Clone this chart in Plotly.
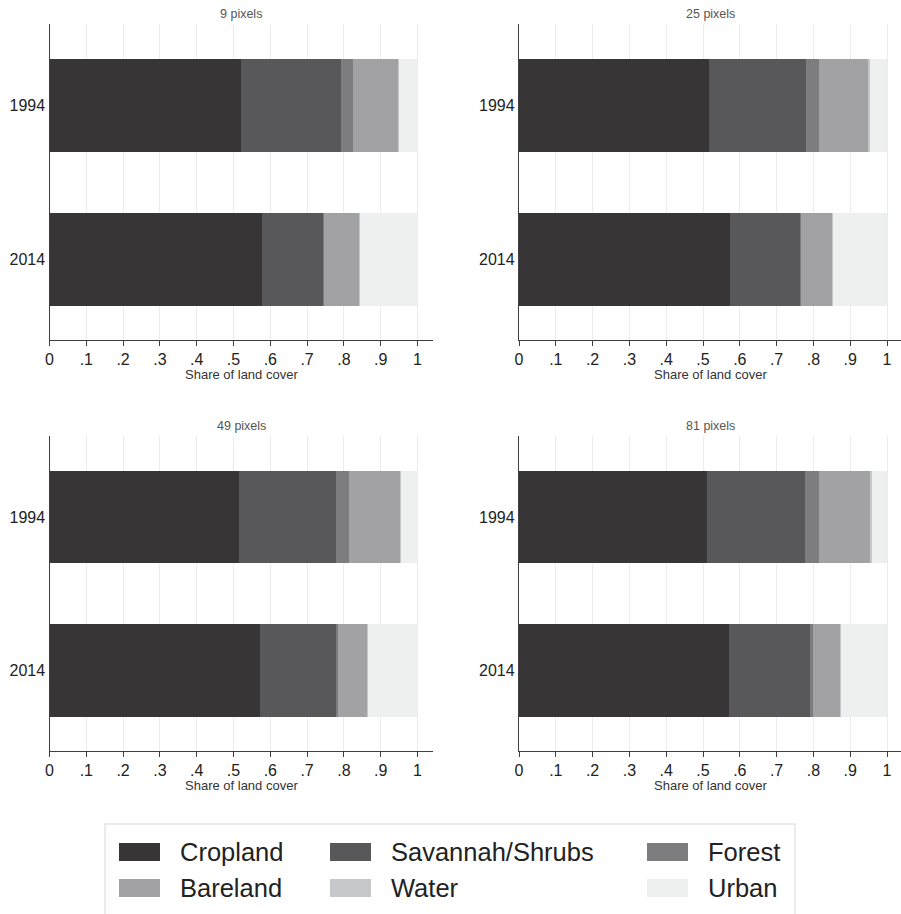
import plotly.graph_objects as go

# ---- data -------------------------------------------------------------
years = ["1994", "2014"]
classes = ["Cropland", "Savannah/Shrubs", "Forest", "Bareland", "Water", "Urban"]
panel_titles = ["9 pixels", "25 pixels", "49 pixels", "81 pixels"]

# share of land cover per class, [1994, 2014]
cropland = [[0.520, 0.577], [0.516, 0.574], [0.514, 0.571], [0.511, 0.571]]
savannah = [[0.271, 0.166], [0.265, 0.191], [0.264, 0.207], [0.267, 0.219]]
forest = [[0.033, 0.002], [0.035, 0.002], [0.035, 0.005], [0.038, 0.008]]
bareland = [[0.124, 0.096], [0.135, 0.084], [0.139, 0.079], [0.140, 0.075]]
water = [[0.003, 0.003], [0.002, 0.003], [0.003, 0.003], [0.002, 0.003]]
urban = [[0.049, 0.156], [0.047, 0.146], [0.045, 0.135], [0.042, 0.124]]

tick_vals = [0, 0.1, 0.2, 0.3, 0.4, 0.5, 0.6, 0.7, 0.8, 0.9, 1]
tick_text = ["0", ".1", ".2", ".3", ".4", ".5", ".6", ".7", ".8", ".9", "1"]

# ---- styling ----------------------------------------------------------
W, H = 901, 914
FONT = "Liberation Sans, Arial, Helvetica, sans-serif"
colors = ["#373536", "#58585a", "#7d7d80", "#a2a2a5", "#c6c7c8", "#eef0ef"]
series = [cropland, savannah, forest, bareland, water, urban]
axis_col = "#3f3f3f"
grid_col = "#ececec"
unit_px = 368.0  # pixels per share unit on x

# panel frames in pixels: (left, right, top, bottom)
frames = [
    (49.5, 433.0, 24.0, 340.0),
    (519.0, 901.0, 24.0, 340.0),
    (49.5, 433.0, 435.7, 751.0),
    (519.0, 901.0, 435.7, 751.0),
]

fig = go.Figure()
layout = dict(
    template="none",
    width=W, height=H,
    margin=dict(l=0, r=0, t=0, b=0, autoexpand=False),
    paper_bgcolor="white", plot_bgcolor="white",
    barmode="stack", bargap=0.396, showlegend=False,
    font=dict(family=FONT, color="#222222"),
)
annotations = []
shapes = []

for p, (x0, x1, yt, yb) in enumerate(frames):
    sfx = "" if p == 0 else str(p + 1)
    xa, ya = "x" + sfx, "y" + sfx
    for k, name in enumerate(classes):
        fig.add_trace(go.Bar(
            x=series[k][p], y=years, orientation="h", name=name,
            marker=dict(color=colors[k], line=dict(width=0)),
            xaxis=xa, yaxis=ya, legendgroup=name, showlegend=False,
            hovertemplate=name + ": %{x:.3f}<extra>%{y}</extra>",
        ))
    layout["xaxis" + sfx] = dict(
        domain=[x0 / W, x1 / W], anchor=ya, automargin=False,
        range=[0, (x1 - x0) / unit_px],
        tickvals=tick_vals, ticktext=tick_text,
        ticks="outside", ticklen=5, tickwidth=1, tickcolor=axis_col,
        showline=True, linecolor=axis_col, linewidth=1.3,
        showgrid=True, gridcolor=grid_col, gridwidth=1, zeroline=False,
        tickfont=dict(size=16, color="#222222", family=FONT),
    )
    layout["yaxis" + sfx] = dict(
        domain=[(H - yb) / H, (H - yt) / H], anchor=xa, automargin=False,
        type="category", categoryarray=years,
        range=[1.525, -0.53],
        showline=True, linecolor=axis_col, linewidth=1.3,
        showgrid=False, zeroline=False, ticks="",
        tickfont=dict(size=16, color="#222222", family=FONT),
    )
    cx = (x0 + x1) / 2 / W
    annotations.append(dict(
        text=panel_titles[p], xref="paper", yref="paper",
        x=cx, y=(H - (yt - 10)) / H, xanchor="center", yanchor="middle",
        showarrow=False, font=dict(size=12.5, color="#555555", family=FONT),
    ))
    annotations.append(dict(
        text="Share of land cover", xref="paper", yref="paper",
        x=cx, y=(H - (yb + 34)) / H, xanchor="center", yanchor="middle",
        showarrow=False, font=dict(size=13, color="#333333", family=FONT),
    ))

# ---- legend: framed box, three columns x two rows ---------------------
box = (105, 795, 824, 918)
shapes.append(dict(
    type="rect", xref="paper", yref="paper",
    x0=box[0] / W, x1=box[1] / W, y0=(H - box[3]) / H, y1=(H - box[2]) / H,
    line=dict(color="#e4e4e4", width=1.5), fillcolor="rgba(0,0,0,0)", layer="above",
))
col_left = [119, 330, 647]
row_mid = [852, 888]
sw_w, sw_h, txt_gap = 41, 18, 18
for k, name in enumerate(classes):
    r, c = divmod(k, 3)
    sx, sy = col_left[c], row_mid[r]
    shapes.append(dict(
        type="rect", xref="paper", yref="paper",
        x0=sx / W, x1=(sx + sw_w) / W,
        y0=(H - (sy + sw_h / 2)) / H, y1=(H - (sy - sw_h / 2)) / H,
        line=dict(width=0), fillcolor=colors[k], layer="above",
    ))
    annotations.append(dict(
        text=name, xref="paper", yref="paper",
        x=(sx + sw_w + txt_gap) / W, y=(H - sy) / H,
        xanchor="left", yanchor="middle", showarrow=False,
        font=dict(size=25.5, color="#222222", family=FONT),
    ))

layout["annotations"] = annotations
layout["shapes"] = shapes
fig.update_layout(**layout)
fig.write_html("out.html")
